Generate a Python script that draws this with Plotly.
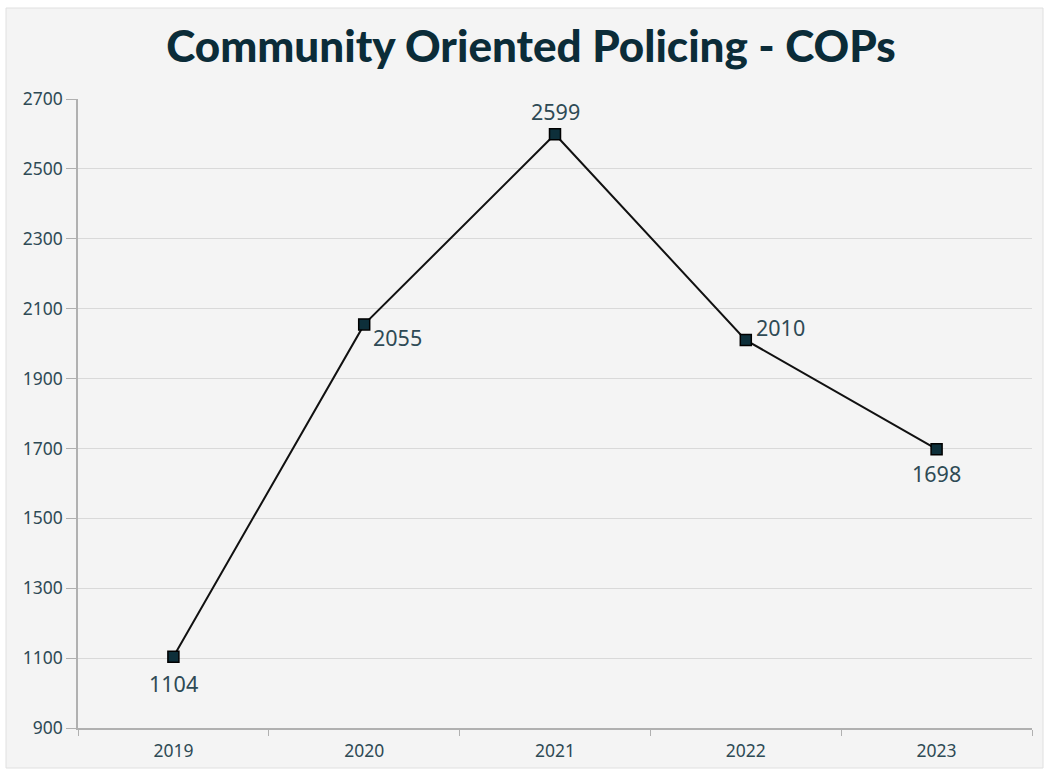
import plotly.graph_objects as go

years = ["2019", "2020", "2021", "2022", "2023"]
values = [1104, 2055, 2599, 2010, 1698]
label_dx = [0, 33, 0, 35, 0]
label_dy = [-27, -13, 23, 13, -24]
y_ticks = [900, 1100, 1300, 1500, 1700, 1900, 2100, 2300, 2500, 2700]

W, H = 1045, 771
ml, mr, mt, mb = 78, 13, 99, 43
pw, ph = W - ml - mr, H - mt - mb

text_color = "#2e4a55"

fig = go.Figure()
fig.add_trace(go.Scatter(
    x=years, y=values, mode="lines+markers",
    line=dict(color="#111111", width=2),
    marker=dict(symbol="square", size=11, color="#0d2f3a",
                line=dict(color="#000000", width=1.5)),
    cliponaxis=False,
    hoverinfo="x+y", showlegend=False,
))

for i, (y, dx, dy) in enumerate(zip(values, label_dx, label_dy)):
    fig.add_annotation(x=i, y=y, xref="x", yref="y", text=str(y),
                       showarrow=False, xshift=dx, yshift=dy,
                       font=dict(family="Noto Sans", size=21.5, color=text_color))

def px_x(p):
    return (p - ml) / pw

def px_y(p):
    return (H - mb - p) / ph

fig.add_shape(type="rect", xref="paper", yref="paper",
              x0=px_x(6), x1=px_x(1043), y0=px_y(768), y1=px_y(8),
              fillcolor="#f4f4f4", line=dict(color="#e0e0e0", width=1),
              layer="below")

fig.update_layout(
    width=W, height=H,
    margin=dict(l=ml, r=mr, t=mt, b=mb, autoexpand=False),
    paper_bgcolor="white",
    plot_bgcolor="#f4f4f4",
    title=dict(text="Community Oriented Policing - COPs",
               x=px_x(531), xref="paper", xanchor="center",
               y=1 - 47 / H, yanchor="middle",
               font=dict(family="Lato", weight=900, size=44, color="#0b2c38")),
    font=dict(family="Noto Sans", color=text_color),
    xaxis=dict(type="category", range=[-0.5, 4.5], showgrid=False,
               showline=True, linecolor="#b0b0b0", linewidth=1.5,
               ticks="outside", tickson="boundaries", ticklen=6,
               tickcolor="#b0b0b0", ticklabelstandoff=6, automargin=False,
               tickfont=dict(size=17.5, color=text_color),
               zeroline=False),
    yaxis=dict(range=[900, 2700], tickvals=y_ticks, showgrid=True,
               gridcolor="#d9d9d9", gridwidth=1, automargin=False,
               showline=True, linecolor="#b0b0b0", linewidth=1.5,
               ticks="outside", ticklen=10, tickcolor="#b0b0b0",
               tickfont=dict(size=17.5, color=text_color), zeroline=False),
)

fig.write_html("out.html", config={"displayModeBar": False},
               post_script="document.body.style.margin='0';document.body.style.padding='0';")
